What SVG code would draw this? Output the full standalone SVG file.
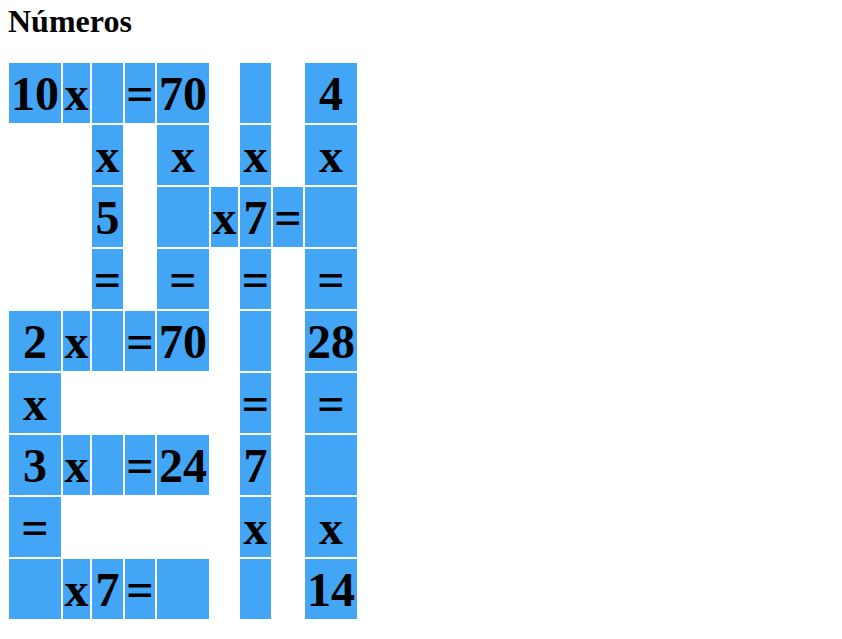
<svg xmlns="http://www.w3.org/2000/svg" width="842" height="639" viewBox="0 0 842 639">
<style>
.c{fill:#42A5F5}
text{font-family:"Liberation Serif","Times New Roman",serif;font-weight:bold;fill:#000}
.t{font-size:48px;text-anchor:middle}
.h{font-size:32px}
</style>
<rect width="842" height="639" fill="#fff"/>
<g id="title"><text class="h" x="8" y="32">Números</text></g>
<g id="grid">
<g id="r1">
<rect class="c" x="9" y="63" width="52" height="60"/><text class="t" x="35" y="110">10</text>
<rect class="c" x="63" y="63" width="27" height="60"/><text class="t" x="76.5" y="110">x</text>
<rect class="c" x="92" y="63" width="31" height="60"/>
<rect class="c" x="125" y="63" width="30" height="60"/><text class="t" x="140" y="110">=</text>
<rect class="c" x="157" y="63" width="52" height="60"/><text class="t" x="183" y="110">70</text>
<rect class="c" x="240" y="63" width="31" height="60"/>
<rect class="c" x="305" y="63" width="52" height="60"/><text class="t" x="331" y="110">4</text>
</g>
<g id="r2">
<rect class="c" x="92" y="125" width="31" height="60"/><text class="t" x="107.5" y="172">x</text>
<rect class="c" x="157" y="125" width="52" height="60"/><text class="t" x="183" y="172">x</text>
<rect class="c" x="240" y="125" width="31" height="60"/><text class="t" x="255.5" y="172">x</text>
<rect class="c" x="305" y="125" width="52" height="60"/><text class="t" x="331" y="172">x</text>
</g>
<g id="r3">
<rect class="c" x="92" y="187" width="31" height="60"/><text class="t" x="107.5" y="234">5</text>
<rect class="c" x="157" y="187" width="52" height="60"/>
<rect class="c" x="211" y="187" width="27" height="60"/><text class="t" x="224.5" y="234">x</text>
<rect class="c" x="240" y="187" width="31" height="60"/><text class="t" x="255.5" y="234">7</text>
<rect class="c" x="273" y="187" width="30" height="60"/><text class="t" x="288" y="234">=</text>
<rect class="c" x="305" y="187" width="52" height="60"/>
</g>
<g id="r4">
<rect class="c" x="92" y="249" width="31" height="60"/><text class="t" x="107.5" y="296">=</text>
<rect class="c" x="157" y="249" width="52" height="60"/><text class="t" x="183" y="296">=</text>
<rect class="c" x="240" y="249" width="31" height="60"/><text class="t" x="255.5" y="296">=</text>
<rect class="c" x="305" y="249" width="52" height="60"/><text class="t" x="331" y="296">=</text>
</g>
<g id="r5">
<rect class="c" x="9" y="311" width="52" height="60"/><text class="t" x="35" y="358">2</text>
<rect class="c" x="63" y="311" width="27" height="60"/><text class="t" x="76.5" y="358">x</text>
<rect class="c" x="92" y="311" width="31" height="60"/>
<rect class="c" x="125" y="311" width="30" height="60"/><text class="t" x="140" y="358">=</text>
<rect class="c" x="157" y="311" width="52" height="60"/><text class="t" x="183" y="358">70</text>
<rect class="c" x="240" y="311" width="31" height="60"/>
<rect class="c" x="305" y="311" width="52" height="60"/><text class="t" x="331" y="358">28</text>
</g>
<g id="r6">
<rect class="c" x="9" y="373" width="52" height="60"/><text class="t" x="35" y="420">x</text>
<rect class="c" x="240" y="373" width="31" height="60"/><text class="t" x="255.5" y="420">=</text>
<rect class="c" x="305" y="373" width="52" height="60"/><text class="t" x="331" y="420">=</text>
</g>
<g id="r7">
<rect class="c" x="9" y="435" width="52" height="60"/><text class="t" x="35" y="482">3</text>
<rect class="c" x="63" y="435" width="27" height="60"/><text class="t" x="76.5" y="482">x</text>
<rect class="c" x="92" y="435" width="31" height="60"/>
<rect class="c" x="125" y="435" width="30" height="60"/><text class="t" x="140" y="482">=</text>
<rect class="c" x="157" y="435" width="52" height="60"/><text class="t" x="183" y="482">24</text>
<rect class="c" x="240" y="435" width="31" height="60"/><text class="t" x="255.5" y="482">7</text>
<rect class="c" x="305" y="435" width="52" height="60"/>
</g>
<g id="r8">
<rect class="c" x="9" y="497" width="52" height="60"/><text class="t" x="35" y="544">=</text>
<rect class="c" x="240" y="497" width="31" height="60"/><text class="t" x="255.5" y="544">x</text>
<rect class="c" x="305" y="497" width="52" height="60"/><text class="t" x="331" y="544">x</text>
</g>
<g id="r9">
<rect class="c" x="9" y="559" width="52" height="60"/>
<rect class="c" x="63" y="559" width="27" height="60"/><text class="t" x="76.5" y="606">x</text>
<rect class="c" x="92" y="559" width="31" height="60"/><text class="t" x="107.5" y="606">7</text>
<rect class="c" x="125" y="559" width="30" height="60"/><text class="t" x="140" y="606">=</text>
<rect class="c" x="157" y="559" width="52" height="60"/>
<rect class="c" x="240" y="559" width="31" height="60"/>
<rect class="c" x="305" y="559" width="52" height="60"/><text class="t" x="331" y="606">14</text>
</g>
</g>
</svg>
